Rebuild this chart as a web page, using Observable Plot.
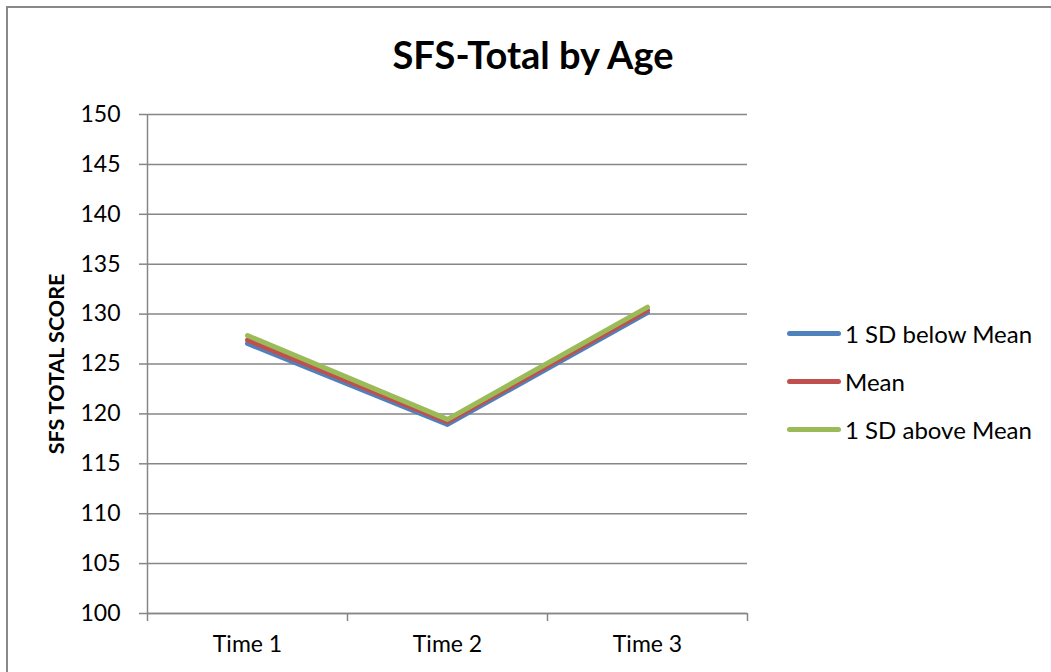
<!DOCTYPE html>
<html>
<head>
<meta charset="utf-8">
<script src="https://cdn.jsdelivr.net/npm/d3@7"></script>
<script src="https://cdn.jsdelivr.net/npm/@observablehq/plot@0.6"></script>
<style>
  html, body { margin: 0; padding: 0; background: #fff; }
  #wrap { position: relative; width: 1051px; height: 672px; overflow: hidden; font-family: Lato, "Open Sans", sans-serif; }
  #border { position: absolute; left: 6px; top: 6px; width: 1100px; height: 700px; border: 2px solid #888; box-sizing: border-box; }
  #title { position: absolute; left: 0; top: 31px; width: 1066px; text-align: center; font-weight: bold; font-size: 38px; color: #000; }
  #legend { position: absolute; left: 787px; top: 0; }
  .item { position: absolute; left: 0; white-space: nowrap; display: flex; align-items: center; font-size: 24px; color: #000; }
  .swatch { width: 54px; height: 5px; border-radius: 3px; margin-right: 4px; }
  #plot { position: absolute; left: 0; top: 0; }
</style>
</head>
<body>
<div id="wrap">
  <div id="border"></div>
  <div id="plot"></div>
  <div id="title">SFS-Total by Age</div>
  <div id="legend"></div>
</div>
<script>
const categories = ["Time 1", "Time 2", "Time 3"];
const seriesNames = ["1 SD below Mean", "Mean", "1 SD above Mean"];
const belowMean = [127.05, 118.95, 130.15];
const meanValues = [127.4, 119.2, 130.4];
const aboveMean = [127.85, 119.45, 130.7];
const colors = ["#4F81BD", "#C0504D", "#9BBB59"];
const yTicks = [100, 105, 110, 115, 120, 125, 130, 135, 140, 145, 150];

const seriesValues = [belowMean, meanValues, aboveMean];
const rows = [];
seriesValues.forEach((vals, s) => {
  vals.forEach((v, i) => rows.push({series: seriesNames[s], idx: i + 0.5, value: v}));
});

const gridColor = "#868686";

const chart = Plot.plot({
  width: 1051,
  height: 672,
  marginLeft: 147,
  marginRight: 304,
  marginTop: 114,
  marginBottom: 59,
  style: {fontFamily: "Lato, 'Open Sans', sans-serif", background: "transparent", color: "#000"},
  x: {type: "linear", domain: [0, categories.length]},
  y: {domain: [100, 150]},
  color: {domain: seriesNames, range: colors},
  marks: [
    Plot.gridY(yTicks, {stroke: gridColor, strokeOpacity: 1, strokeWidth: 1.5}),
    Plot.axisY({ticks: yTicks, tickSize: 8, tickPadding: 19, stroke: gridColor, strokeWidth: 1.5, fontSize: 23, label: null, fill: "#000"}),
    Plot.axisX({ticks: [0, 1, 2, 3], tickSize: 8, tickFormat: () => "", stroke: gridColor, strokeWidth: 1.5, label: null}),
    Plot.axisX({ticks: categories.map((c, i) => i + 0.5), tickSize: 0, tickPadding: 22, tickFormat: d => categories[Math.round(d - 0.5)], fontSize: 23, label: null, fill: "#000"}),
    Plot.ruleX([0], {stroke: gridColor, strokeWidth: 1.5}),
    Plot.ruleY([100], {stroke: gridColor, strokeWidth: 1.5}),
    Plot.line(rows, {x: "idx", y: "value", z: "series", stroke: "series", strokeWidth: 5, strokeLinecap: "round", strokeLinejoin: "round"}),
    Plot.text(["SFS TOTAL SCORE"], {frameAnchor: "left", textAnchor: "middle", dx: -90, rotate: -90, fontWeight: "bold", fontSize: 21.5, fill: "#000", text: d => d})
  ]
});
document.getElementById("plot").appendChild(chart);

const legend = document.getElementById("legend");
const legendTops = [333, 381, 429];
seriesNames.forEach((name, i) => {
  const item = document.createElement("div");
  item.className = "item";
  item.style.top = (legendTops[i] - 15) + "px";
  item.style.height = "30px";
  const sw = document.createElement("div");
  sw.className = "swatch";
  sw.style.background = colors[i];
  const label = document.createElement("span");
  label.textContent = name;
  item.appendChild(sw);
  item.appendChild(label);
  legend.appendChild(item);
});
</script>
</body>
</html>
